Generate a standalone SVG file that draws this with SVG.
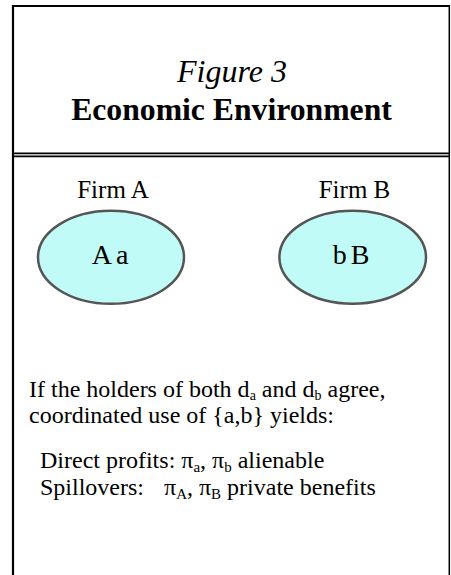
<svg xmlns="http://www.w3.org/2000/svg" width="451" height="575" viewBox="0 0 451 575">
<style>
.t{font-family:"Liberation Serif","Times New Roman",serif;fill:#000}
.frame{stroke:#000;fill:none}
.node{fill:#c1fbf7;stroke:#555;stroke-width:2.5}
.sub{font-size:15px}
.sub1{font-size:14px}
</style>
<rect width="451" height="575" fill="#fff"/>
<g id="frame">
<line class="frame" x1="13" y1="5" x2="13" y2="575" stroke-width="2.2"/>
<line class="frame" x1="12" y1="6" x2="450" y2="6" stroke-width="2"/>
<line class="frame" x1="449.3" y1="5" x2="449.3" y2="575" stroke-width="1.5"/>
<line class="frame" x1="13" y1="153.4" x2="449" y2="153.4" stroke-width="1.6"/>
<line class="frame" x1="13" y1="156.4" x2="449" y2="156.4" stroke-width="1.6"/>
</g>
<g id="title">
<text class="t" x="232" y="82" font-size="32" font-style="italic" text-anchor="middle">Figure 3</text>
<text class="t" x="231.5" y="120" font-size="31.7" font-weight="bold" text-anchor="middle">Economic Environment</text>
</g>
<g id="firmA">
<text class="t" x="113" y="198" font-size="25" text-anchor="middle">Firm A</text>
<ellipse class="node" cx="111" cy="257.3" rx="73" ry="46.5"/>
<text class="t" x="112" y="264.3" font-size="28" text-anchor="middle" letter-spacing="4">Aa</text>
</g>
<g id="firmB">
<text class="t" x="354.5" y="198" font-size="25" text-anchor="middle">Firm B</text>
<ellipse class="node" cx="352.7" cy="257.3" rx="73.3" ry="46.5"/>
<text class="t" x="353" y="264.3" font-size="28" text-anchor="middle" letter-spacing="4">bB</text>
</g>
<g id="connectors"></g>
<g id="notes" class="t" font-size="24">
<text x="29" y="396.5">If the holders of both d<tspan class="sub1" dy="3">a</tspan><tspan dy="-3"> and d</tspan><tspan class="sub1" dy="3">b</tspan><tspan dy="-3"> agree,</tspan></text>
<text x="29" y="422.5">coordinated use of {a,b} yields:</text>
<text x="40" y="468">Direct profits: π<tspan class="sub" dy="4">a</tspan><tspan dy="-4">, π</tspan><tspan class="sub" dy="4">b</tspan><tspan dy="-4"> alienable</tspan></text>
<text x="40" y="495">Spillovers:</text>
<text x="164" y="495">π<tspan class="sub" dy="4">A</tspan><tspan dy="-4">, π</tspan><tspan class="sub" dy="4">B</tspan><tspan dy="-4"> private benefits</tspan></text>
</g>
</svg>
